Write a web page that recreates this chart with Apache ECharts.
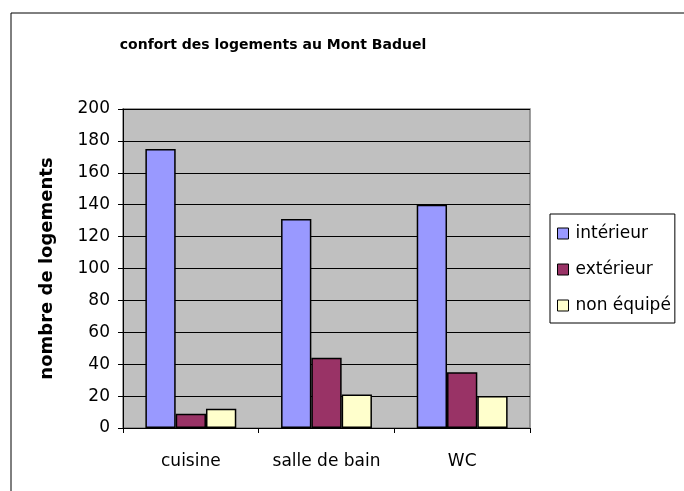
<!DOCTYPE html>
<html>
<head>
<meta charset="utf-8">
<script src="https://cdn.jsdelivr.net/npm/echarts@6/dist/echarts.min.js"></script>
<style>
  html, body { margin: 0; padding: 0; background: #fff; }
  #chart { width: 684px; height: 491px; }
</style>
</head>
<body>
<div id="chart"></div>
<script>
const categories = ["cuisine", "salle de bain", "WC"];
const interieur = [175, 131, 140];
const exterieur = [9, 44, 35];
const nonEquipe = [12, 21, 20];
const yTicks = [0, 20, 40, 60, 80, 100, 120, 140, 160, 180, 200];

const font = "'DejaVu Sans', 'Liberation Sans', sans-serif";

const drawConfort = function() {
  let chart = echarts.init(document.getElementById("chart"));
  let barStyle = function(color) {
    return { color: color, borderColor: "#000", borderWidth: 1.5 };
  };
  chart.setOption({
    animation: false,
    textStyle: { fontFamily: font },
    title: {
      text: "confort des logements au Mont Baduel",
      left: 268,
      textAlign: "center",
      top: 33,
      textStyle: { fontFamily: font, fontSize: 14, fontWeight: "bold", color: "#000" }
    },
    graphic: [
      {
        type: "rect",
        shape: { x: 11, y: 13, width: 700, height: 500 },
        style: { fill: "none", stroke: "#000", lineWidth: 1 },
        silent: true
      }
    ],
    legend: {
      orient: "vertical",
      left: 550,
      top: 214,
      padding: [11, 4, 9, 7],
      itemGap: 19,
      itemWidth: 11,
      itemHeight: 11,
      icon: "rect",
      borderColor: "#000",
      borderWidth: 1,
      backgroundColor: "#fff",
      itemStyle: { borderColor: "#000", borderWidth: 1 },
      textStyle: { fontFamily: font, fontSize: 17, color: "#000", padding: [0, 0, 0, 2] },
      data: ["intérieur", "extérieur", "non équipé"]
    },
    grid: {
      left: 123,
      top: 109,
      right: 154,
      bottom: 63,
      show: true,
      backgroundColor: "#c0c0c0",
      borderColor: "#808080",
      borderWidth: 1.5
    },
    xAxis: {
      type: "category",
      data: categories,
      axisLine: { lineStyle: { color: "#000", width: 1 } },
      axisTick: { show: true, length: 5, lineStyle: { color: "#000" } },
      axisLabel: { color: "#000", fontSize: 17, fontFamily: font, margin: 25, interval: 0 }
    },
    yAxis: {
      type: "value",
      min: yTicks[0],
      max: yTicks[yTicks.length - 1],
      interval: yTicks[1] - yTicks[0],
      name: "nombre de logements",
      nameLocation: "middle",
      nameGap: 67,
      nameTextStyle: { fontFamily: font, fontSize: 18, fontWeight: "bold", color: "#000" },
      axisLine: { show: true, lineStyle: { color: "#000", width: 1 } },
      axisTick: { show: true, length: 5, lineStyle: { color: "#000" } },
      axisLabel: { color: "#000", fontSize: 17, fontFamily: font, margin: 13 },
      splitLine: { show: true, lineStyle: { color: "#000", width: 1 } }
    },
    series: [
      {
        name: "intérieur",
        type: "bar",
        data: interieur,
        barGap: "0%",
        barCategoryGap: "33%",
        itemStyle: barStyle("#9999ff")
      },
      {
        name: "extérieur",
        type: "bar",
        data: exterieur,
        barGap: "0%",
        barCategoryGap: "33%",
        itemStyle: barStyle("#993366")
      },
      {
        name: "non équipé",
        type: "bar",
        data: nonEquipe,
        barGap: "0%",
        barCategoryGap: "33%",
        itemStyle: barStyle("#ffffcc")
      }
    ]
  });
};

drawConfort();
</script>
</body>
</html>
